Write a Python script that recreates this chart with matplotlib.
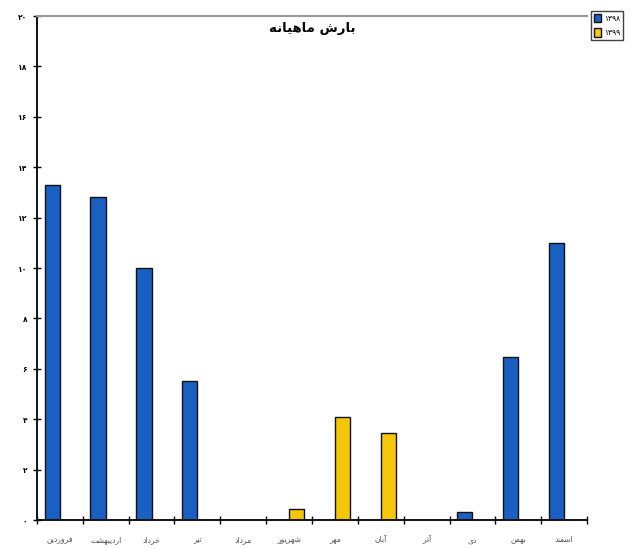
import matplotlib
matplotlib.use("Agg")
import matplotlib.pyplot as plt
import numpy as np

# ---- data -------------------------------------------------------------
months = ["فروردین", "اردیبهشت", "خرداد", "تیر", "مرداد", "شهریور",
          "مهر", "آبان", "آذر", "دی", "بهمن", "اسفند"]
series_names = ["۱۳۹۸", "۱۳۹۹"]
values_a = [13.3, 12.8, 10.0, 5.5, 0.0, 0.0, 0.0, 0.0, 0.0, 0.3, 6.45, 11.0]
values_b = [0.0, 0.0, 0.0, 0.0, 0.0, 0.45, 4.1, 3.45, 0.0, 0.0, 0.0, 0.0]
title_text = "بارش ماهیانه"
y_ticks = [0, 2, 4, 6, 8, 10, 12, 14, 16, 18, 20]

# ---- minimal Persian shaping (matplotlib has no bidi/shaping) ----------
# letter -> (isolated, final, initial, medial); two-form letters do not join left
FORMS = {
    "ا": (0xFE8D, 0xFE8E), "آ": (0xFE81, 0xFE82), "د": (0xFEA9, 0xFEAA),
    "ذ": (0xFEAB, 0xFEAC), "ر": (0xFEAD, 0xFEAE), "ز": (0xFEAF, 0xFEB0),
    "و": (0xFEED, 0xFEEE),
    "ب": (0xFE8F, 0xFE90, 0xFE91, 0xFE92), "ت": (0xFE95, 0xFE96, 0xFE97, 0xFE98),
    "خ": (0xFEA5, 0xFEA6, 0xFEA7, 0xFEA8), "س": (0xFEB1, 0xFEB2, 0xFEB3, 0xFEB4),
    "ش": (0xFEB5, 0xFEB6, 0xFEB7, 0xFEB8), "ف": (0xFED1, 0xFED2, 0xFED3, 0xFED4),
    "م": (0xFEE1, 0xFEE2, 0xFEE3, 0xFEE4), "ن": (0xFEE5, 0xFEE6, 0xFEE7, 0xFEE8),
    "ه": (0xFEE9, 0xFEEA, 0xFEEB, 0xFEEC), "ی": (0xFEEF, 0xFEF0, 0xFEF3, 0xFEF4),
}


def shape(text):
    out = []
    for word in text.split(" "):
        chars = list(word)
        glyphs = []
        for i, ch in enumerate(chars):
            f = FORMS.get(ch)
            if f is None:
                glyphs.append(ch)
                continue
            prev = FORMS.get(chars[i - 1]) if i > 0 else None
            nxt = FORMS.get(chars[i + 1]) if i + 1 < len(chars) else None
            join_prev = prev is not None and len(prev) == 4
            join_next = nxt is not None and len(f) == 4
            if join_prev and join_next:
                g = f[3]
            elif join_prev:
                g = f[1]
            elif join_next:
                g = f[2]
            else:
                g = f[0]
            glyphs.append(chr(g))
        out.append("".join(reversed(glyphs)))
    return " ".join(reversed(out))


def fa_num(n):
    return str(n).translate(str.maketrans("0123456789", "۰۱۲۳۴۵۶۷۸۹"))


plt.rcParams["font.family"] = ["DejaVu Sans"]

fig = plt.figure(figsize=(6.32, 5.48), dpi=100)
ax = fig.add_axes([37 / 632, 28 / 548, 550 / 632, 504 / 548])

x = np.arange(len(months))
w = 1 / 3
blue = "#1a5fc2"
yellow = "#f4c70a"
ax.bar(x - w, values_a, width=w, align="edge", color=blue,
       edgecolor="#111111", linewidth=1.0, label=series_names[0])
ax.bar(x, values_b, width=w, align="edge", color=yellow,
       edgecolor="#111111", linewidth=1.0, label=series_names[1])

ax.set_xlim(-0.5, len(months) - 0.5)
ax.set_ylim(0, 20)

ax.set_yticks(y_ticks)
ax.set_yticklabels([fa_num(v) for v in y_ticks], fontsize=5.5, fontweight="bold")
ax.set_xticks(np.arange(len(months) + 1) - 0.5)
ax.set_xticklabels([])
ax.set_xticks(x, minor=True)
ax.set_xticklabels([shape(m) for m in months], minor=True, fontsize=5.5, color="#555555")
ax.tick_params(axis="x", which="minor", length=0, pad=11)
ax.tick_params(axis="both", which="major", direction="inout", length=6, width=1.0)
ax.tick_params(axis="y", pad=4)

for s in ("left", "bottom"):
    ax.spines[s].set_linewidth(1.4)
    ax.spines[s].set_color("#111111")
ax.spines["top"].set_color("#999999")
ax.spines["top"].set_linewidth(1.5)
ax.spines["right"].set_visible(False)

ax.text(0.5, 0.988, shape(title_text), transform=ax.transAxes, ha="center",
        va="top", fontsize=9.5, fontweight="bold")

fig.legend(loc="upper left", bbox_to_anchor=(591 / 632, 1 - 11 / 548),
           fontsize=5.5, frameon=True, fancybox=False, edgecolor="#111111",
           handlelength=1.0, handleheight=1.3, handletextpad=0.3,
           borderpad=0.35, labelspacing=0.7, borderaxespad=0)

fig.savefig("out.png", dpi=100, facecolor="white")
